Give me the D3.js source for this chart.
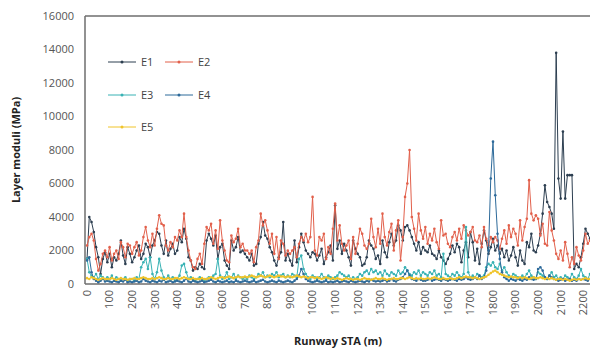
<!DOCTYPE html>
<html>
<head>
<meta charset="utf-8">
<script src="https://cdn.jsdelivr.net/npm/d3@7"></script>
<style>
  body { margin: 0; background: #fff; }
  svg { display: block; font-family: "Open Sans", sans-serif; }
  .tick-label { font-size: 11px; fill: #555; }
  .axis-title { font-size: 11px; font-weight: bold; fill: #222; }
  .legend-item text { font-size: 11px; fill: #444; }
</style>
</head>
<body>
<div id="chart"></div>
<script>
// stations along the runway, one reading every 10 m
const stations = d3.range(0, 2240, 10);

const e1 = [
  1500, 4000, 3700, 3100, 2200, 1600, 600, 1500, 1900, 1300,
  1800, 1000, 1600, 1400, 1800, 2600, 1700, 1200, 2200, 1800,
  1300, 1600, 2000, 2300, 1500, 1800, 2400, 2200, 1600, 2300,
  2600, 3100, 3000, 2300, 1800, 2600, 1700, 2100, 2400, 1800,
  2000, 2800, 2500, 3300, 2700, 1600, 1400, 800, 1000, 900,
  1200, 1000, 900, 2600, 3000, 2700, 2300, 2900, 1500, 2200,
  2400, 1400, 1100, 900, 2600, 2000, 2200, 2800, 1900, 2000,
  1800, 1600, 1400, 1800, 1100, 1200, 2400, 2800, 3700, 2900,
  2700, 2200, 1900, 1400, 1100, 1600, 1900, 3700, 1400, 1800,
  1400, 1100, 2600, 1300, 2200, 3000, 2500, 2000, 1800, 1600,
  1900, 1800, 1400, 1700, 2100, 1200, 1600, 1900, 2300, 1400,
  4700, 2100, 2600, 1800, 2400, 2000, 1600, 1100, 2600, 2100,
  1800, 1600, 1100, 1200, 1600, 2600, 2300, 2100, 1500, 1700,
  1200, 2600, 1900, 1600, 2500, 3000, 2300, 2600, 3500, 3200,
  2600, 3400, 3500, 3200, 2800, 2400, 2000, 2500, 1800, 2200,
  2000, 1900, 2300, 1800, 1700, 1500, 2000, 1600, 1400, 1200,
  1500, 1800, 2300, 1900, 2400, 2200, 1300, 2000, 2500, 1600,
  3100, 2500, 1400, 2100, 1200, 2400, 3200, 2600, 1800, 2200,
  2700, 2000, 2300, 1800, 2100, 1600, 2000, 1400, 1700, 2200,
  1600, 1100, 2000, 1400, 1200, 2500, 2200, 3000, 2000, 1900,
  2300, 3000, 4200, 5900, 4900, 4600, 4200, 3300, 13800, 6300,
  5100, 9100, 5100, 6500, 6500, 6500, 900, 1200, 1000, 1600,
  2400, 3300, 3000, 2700
];

const e2 = [
  2300, 2800, 3000, 2600, 1500, 800, 1200, 1800, 2000, 1600,
  2200, 1400, 1800, 2000, 1500, 2500, 2200, 1600, 2400, 2300,
  1800, 2200, 2500, 1700, 2000, 2800, 3400, 2600, 2200, 3000,
  2300, 3300, 4100, 3600, 3500, 2300, 2000, 2500, 2200, 2800,
  2600, 3200, 2800, 4200, 2800, 2000, 1400, 1000, 900, 1500,
  1800, 1200, 2400, 3400, 3200, 3600, 2400, 3200, 2100, 3800,
  2600, 2000, 1400, 1300, 2900, 2500, 2700, 3300, 2200, 2400,
  2000, 2000, 1800, 2000, 1300, 2200, 2600, 4200, 3500, 3800,
  3200, 2400, 3000, 1800, 2800, 1500, 2600, 2400, 1700, 2000,
  1800, 2000, 2200, 1600, 2400, 2800, 2600, 3000, 2500, 2800,
  5200, 2000, 1700, 2800, 2600, 3000, 1500, 2200, 1800, 3300,
  4800, 2600, 3500, 2400, 2000, 2300, 2600, 1500, 2800, 1800,
  2400, 3300, 3000, 2300, 2100, 2400, 3900, 2800, 2200, 3300,
  2400, 4200, 2800, 2300, 3100, 3600, 2000, 3200, 3800, 1400,
  2800, 5200, 6000, 8000, 4000, 3300, 2600, 4200, 3200, 2700,
  3400, 2400, 3000, 2600, 3300, 2500, 2100, 3800, 2900, 3000,
  2400, 2200, 2800, 3100, 2600, 3300, 2700, 3500, 3200, 2900,
  3100, 3400, 2600, 2500, 2900, 2200, 3400, 2700, 2300, 2800,
  2500, 2800, 2600, 2100, 2700, 3200, 2400, 3500, 2800, 3300,
  3000, 2300, 3800, 2600, 3400, 3900, 6200, 4200, 3800, 4100,
  3900, 2900, 3600, 2400, 2300, 4300, 3200, 2600, 1800, 1500,
  2000, 1400, 2500, 1800, 1000, 1600, 1200, 2200, 1700, 1400,
  2000, 3000, 2400, 2600
];

const e3 = [
  1500, 700, 500, 400, 600, 300, 500, 400, 300, 400,
  300, 500, 200, 400, 300, 200, 300, 400, 200, 300,
  300, 200, 400, 300, 1000, 1300, 1500, 900, 1600, 600,
  300, 700, 1500, 800, 400, 300, 500, 300, 400, 200,
  300, 500, 1100, 1200, 700, 300, 400, 300, 200, 300,
  400, 300, 200, 300, 400, 300, 500, 600, 1500, 500,
  300, 400, 700, 300, 400, 600, 300, 500, 400, 300,
  400, 300, 500, 400, 300, 400, 600, 500, 700, 400,
  500, 400, 600, 500, 700, 400, 500, 600, 400, 500,
  400, 600, 500, 400, 1500, 1700, 900, 600, 400, 300,
  500, 400, 300, 400, 600, 400, 300, 500, 400, 300,
  400, 500, 700, 600, 500, 400, 500, 300, 400, 300,
  400, 600, 500, 700, 800, 600, 900, 700, 800, 600,
  700, 500, 800, 600, 500, 700, 600, 500, 800, 600,
  700, 1000, 800, 600, 500, 700, 600, 800, 500, 700,
  600, 500, 700, 600, 800, 500, 600, 400, 1800, 600,
  500, 400, 600, 500, 700, 500, 400, 600, 3400, 700,
  400, 500, 400, 600, 500, 400, 500, 1000, 1200, 1100,
  1300, 1000, 900, 1200, 800, 1000, 700, 500, 400, 600,
  500, 400, 300, 500, 400, 600, 800, 500, 400, 300,
  700, 600, 500, 400, 300, 500, 700, 400, 500, 300,
  400, 300, 500, 400, 300, 600, 400, 300, 500, 900,
  500, 400, 300, 600
];

const e4 = [
  1400, 1600, 700, 300, 200, 100, 200, 300, 150, 200,
  150, 100, 200, 150, 100, 200, 150, 250, 100, 150,
  100, 150, 200, 100, 150, 300, 200, 150, 100, 200,
  150, 100, 200, 150, 250, 100, 150, 200, 100, 150,
  200, 150, 100, 200, 300, 150, 100, 200, 150, 100,
  150, 200, 100, 150, 200, 250, 150, 100, 200, 150,
  100, 150, 200, 100, 150, 100, 200, 150, 100, 150,
  200, 150, 100, 150, 200, 100, 150, 200, 250, 150,
  100, 150, 200, 150, 100, 200, 150, 100, 150, 200,
  150, 100, 200, 300, 500, 900, 600, 300, 200, 150,
  100, 150, 200, 150, 100, 150, 200, 100, 150, 100,
  150, 200, 100, 150, 200, 150, 100, 200, 150, 100,
  150, 200, 150, 100, 200, 150, 250, 200, 150, 200,
  150, 200, 250, 150, 200, 300, 200, 150, 250, 300,
  400, 600, 800, 500, 300, 250, 200, 300, 250, 200,
  200, 250, 300, 200, 250, 300, 250, 200, 300, 250,
  200, 250, 300, 250, 200, 300, 250, 300, 400, 300,
  250, 300, 400, 300, 500, 300, 400, 800, 2000, 6300,
  8500, 5300, 3000, 1500, 700, 400, 300, 200, 300, 250,
  200, 300, 250, 200, 300, 250, 400, 300, 250, 300,
  900, 1000, 800, 400, 300, 500, 400, 300, 250, 200,
  250, 300, 200, 250, 300, 200, 250, 200, 300, 250,
  300, 250, 200, 300
];

const e5 = [
  350, 300, 400, 350, 300, 250, 300, 350, 300, 300,
  300, 350, 300, 250, 300, 350, 300, 300, 250, 300,
  300, 350, 300, 300, 350, 400, 350, 300, 300, 350,
  300, 350, 400, 350, 300, 300, 350, 300, 300, 350,
  350, 300, 350, 400, 350, 300, 300, 350, 300, 300,
  300, 350, 300, 300, 350, 400, 350, 300, 350, 400,
  400, 350, 400, 450, 400, 350, 400, 450, 400, 400,
  450, 400, 450, 500, 450, 400, 450, 500, 450, 400,
  450, 500, 450, 400, 450, 500, 450, 450, 400, 450,
  450, 400, 450, 500, 450, 400, 450, 400, 350, 400,
  400, 350, 400, 350, 300, 350, 400, 350, 300, 350,
  300, 350, 300, 250, 300, 350, 300, 300, 250, 300,
  300, 250, 300, 350, 300, 300, 250, 300, 350, 300,
  300, 350, 300, 250, 300, 300, 350, 300, 300, 350,
  350, 300, 350, 400, 350, 300, 350, 300, 350, 300,
  300, 350, 300, 350, 400, 350, 300, 300, 350, 300,
  300, 350, 300, 300, 350, 400, 350, 400, 450, 400,
  400, 350, 400, 350, 300, 350, 400, 450, 550, 650,
  750, 800, 700, 600, 550, 500, 450, 400, 450, 400,
  400, 350, 400, 350, 400, 350, 300, 350, 400, 350,
  350, 400, 350, 300, 350, 300, 350, 300, 250, 300,
  300, 250, 300, 250, 200, 250, 300, 250, 300, 250,
  300, 350, 300, 300
];

const seriesNames = ['E1', 'E2', 'E3', 'E4', 'E5'];
const seriesValues = [e1, e2, e3, e4, e5];
const seriesColors = ['#2c3e50', '#e2604b', '#38b2b4', '#2d6a9a', '#f0c42a'];

const yTicks = [0, 2000, 4000, 6000, 8000, 10000, 12000, 14000, 16000];
const xTicks = d3.range(0, 2300, 100);

const width = 590, height = 349;
const plot = { left: 85, right: 590, top: 16, bottom: 284 };

const svg = d3.select('#chart').append('svg')
  .attr('width', width)
  .attr('height', height);

const x = d3.scaleLinear().domain([-9, 2230]).range([plot.left, plot.right]);
const y = d3.scaleLinear().domain([0, 16000]).range([plot.bottom, plot.top]);

// lines + markers
const line = d3.line().x(d => x(d[0])).y(d => y(d[1]));

seriesValues.forEach((vals, i) => {
  const pts = stations.map((s, j) => [s, vals[j]]);
  const g = svg.append('g').attr('class', 'series');
  g.append('path')
    .datum(pts)
    .attr('d', line)
    .attr('fill', 'none')
    .attr('stroke', seriesColors[i])
    .attr('stroke-width', 1);
  g.selectAll('circle')
    .data(pts)
    .enter()
    .append('circle')
    .attr('cx', d => x(d[0]))
    .attr('cy', d => y(d[1]))
    .attr('r', 1.3)
    .attr('fill', seriesColors[i]);
});

// frame: left, top and bottom lines
svg.append('line')
  .attr('x1', plot.left).attr('x2', plot.left)
  .attr('y1', plot.top).attr('y2', plot.bottom)
  .attr('stroke', '#6e6e6e').attr('stroke-width', 1.5);
svg.append('line')
  .attr('x1', plot.left).attr('x2', plot.right)
  .attr('y1', plot.top).attr('y2', plot.top)
  .attr('stroke', '#6e6e6e').attr('stroke-width', 1.5);
svg.append('line')
  .attr('x1', plot.left).attr('x2', plot.right)
  .attr('y1', plot.bottom).attr('y2', plot.bottom)
  .attr('stroke', '#6e6e6e').attr('stroke-width', 1.5);

// y tick labels
svg.selectAll('text.ytick')
  .data(yTicks)
  .enter()
  .append('text')
  .attr('class', 'tick-label ytick')
  .attr('x', 74)
  .attr('y', d => y(d))
  .attr('dy', '0.35em')
  .attr('text-anchor', 'end')
  .text(d => d);

// x tick labels, rotated
svg.selectAll('text.xtick')
  .data(xTicks)
  .enter()
  .append('text')
  .attr('class', 'tick-label xtick')
  .attr('transform', d => `translate(${x(d)}, 290) rotate(-90)`)
  .attr('dy', '0.35em')
  .attr('text-anchor', 'end')
  .text(d => d);

// axis titles
svg.append('text')
  .attr('class', 'axis-title')
  .attr('transform', 'translate(20, 150) rotate(-90)')
  .attr('text-anchor', 'middle')
  .text('Layer moduli (MPa)');

svg.append('text')
  .attr('class', 'axis-title')
  .attr('x', 338)
  .attr('y', 345)
  .attr('text-anchor', 'middle')
  .text('Runway STA (m)');

// legend, two columns
const legendPos = [[108, 62], [165, 62], [108, 95], [165, 95], [108, 127]];
const legend = svg.append('g').attr('class', 'legend');
const item = legend.selectAll('.legend-item')
  .data(seriesNames)
  .enter()
  .append('g')
  .attr('class', 'legend-item')
  .attr('transform', (d, i) => `translate(${legendPos[i][0]}, ${legendPos[i][1]})`);

item.append('line')
  .attr('x1', 0).attr('x2', 28)
  .attr('stroke', (d, i) => seriesColors[i])
  .attr('stroke-width', 1);
item.append('circle')
  .attr('cx', 14).attr('r', 1.5)
  .attr('fill', (d, i) => seriesColors[i]);
item.append('text')
  .attr('x', 33)
  .attr('dy', '0.35em')
  .text(d => d);
</script>
</body>
</html>
